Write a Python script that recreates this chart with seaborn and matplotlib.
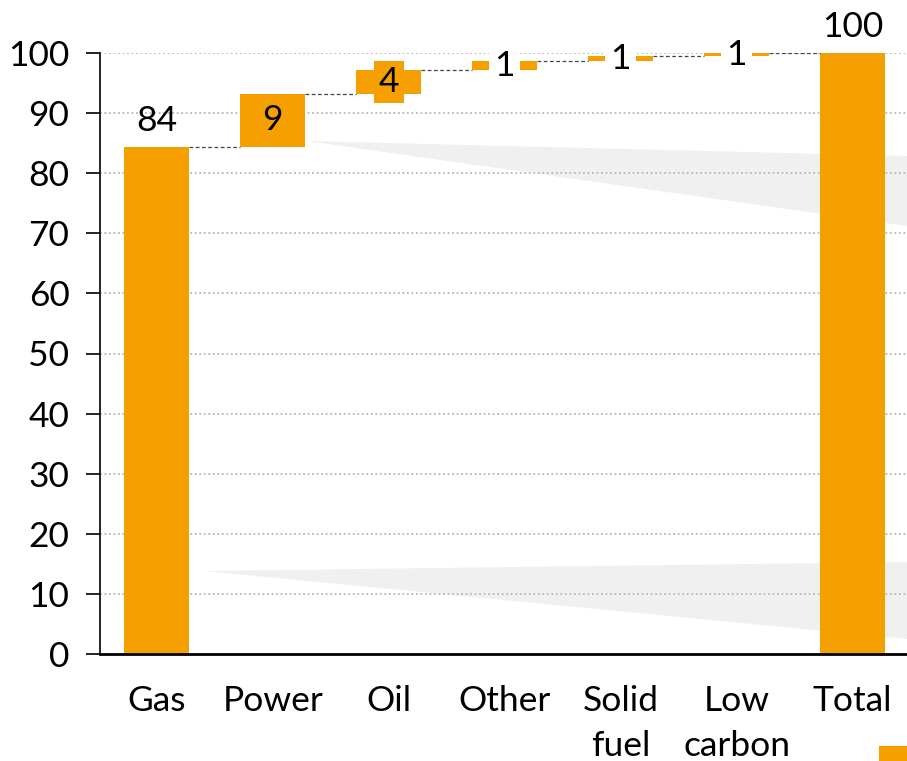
import numpy as np
import pandas as pd
import matplotlib
matplotlib.use("Agg")
import matplotlib.pyplot as plt
from matplotlib.patches import Polygon, Rectangle
import seaborn as sns

# Contribution of each source to the total (per cent)
categories = ["Gas", "Power", "Oil", "Other", "Solid\nfuel", "Low\ncarbon", "Total"]
steps = [84.4, 8.8, 4.0, 1.4, 0.9, 0.5]
labels = ["84", "9", "4", "1", "1", "1", "100"]
yticks = [0, 10, 20, 30, 40, 50, 60, 70, 80, 90, 100]

total = float(np.sum(steps))
heights = steps + [total]
tops = list(np.cumsum(steps)) + [total]
bottoms = [0.0] + list(np.cumsum(steps)[:-1]) + [0.0]

ORANGE = "#F5A000"

sns.set_theme(style="white")
plt.rcParams["font.family"] = ["Lato", "DejaVu Sans"]

W, H = 907, 761
fig = plt.figure(figsize=(W / 100, H / 100), dpi=100)
ax = fig.add_axes([100 / W, (H - 654) / H, (907 - 100) / W, (654 - 53) / H])

df = pd.DataFrame({"category": categories, "height": heights})
sns.barplot(data=df, x="category", y="height", color=ORANGE, saturation=1,
            width=0.56, ax=ax, zorder=2)

# lift each step onto the running total
for patch, b in zip(ax.patches, bottoms):
    patch.set_y(b)
    patch.set_edgecolor("none")

ax.set_xlim(-0.49, 6.47)
ax.set_ylim(0, 100)
ax.set_yticks(yticks)
ax.set_xlabel("")
ax.set_ylabel("")

# dashed connectors between consecutive bars
half = 0.28
for i in range(len(categories) - 1):
    ax.plot([i + half, i + 1 - half], [tops[i], tops[i]], color="#444444",
            lw=0.9, ls=(0, (3, 2)), zorder=3)

# value labels
for i, (lab, b, t) in enumerate(zip(labels, bottoms, tops)):
    if i == 0 or i == len(categories) - 1:
        ax.annotate(lab, (i, t), xytext=(0, 7), textcoords="offset points",
                    ha="center", va="bottom", fontsize=25.5, color="black",
                    annotation_clip=False, zorder=5)
    else:
        face = ORANGE if heights[i] >= 3 else "white"
        ax.text(i, (b + t) / 2, lab, ha="center", va="center", fontsize=25.5,
                color="black", zorder=5,
                bbox=dict(boxstyle="square,pad=0.14", fc=face, ec="none"))

# dotted horizontal grid
ax.set_axisbelow(True)
ax.yaxis.grid(True, color="#b8b8b8", ls=(0, (1, 1.5)), lw=1.3)
ax.xaxis.grid(False)

for side in ["top", "right"]:
    ax.spines[side].set_visible(False)
ax.spines["left"].set_color("black")
ax.spines["left"].set_linewidth(1.2)
ax.spines["bottom"].set_color("black")
ax.spines["bottom"].set_linewidth(2.0)

ax.tick_params(axis="y", direction="out", length=10, width=1.2, color="black",
               labelsize=25.5, labelcolor="black", pad=12, left=True)
ax.tick_params(axis="x", length=0, labelsize=25.5, labelcolor="black", pad=22)
for lab in ax.get_xticklabels():
    lab.set_linespacing(1.5)

# faint grey shading bands behind the bars
def fig_poly(pts, **kw):
    xy = [(x / W, 1 - y / H) for x, y in pts]
    p = Polygon(xy, closed=True, transform=fig.transFigure, clip_on=False, **kw)
    ax.add_artist(p)

fig_poly([(306, 141), (907, 156), (907, 226)], fc="#f0f0f0", ec="none", zorder=0.3)
fig_poly([(204, 571), (907, 562), (907, 639)], fc="#f0f0f0", ec="none", zorder=0.3)

# legend swatch at the lower-right corner
fig.add_artist(Rectangle((879 / W, 0), 28 / W, 15 / H, transform=fig.transFigure,
                         fc=ORANGE, ec="none"))

fig.savefig("out.png", dpi=100)
